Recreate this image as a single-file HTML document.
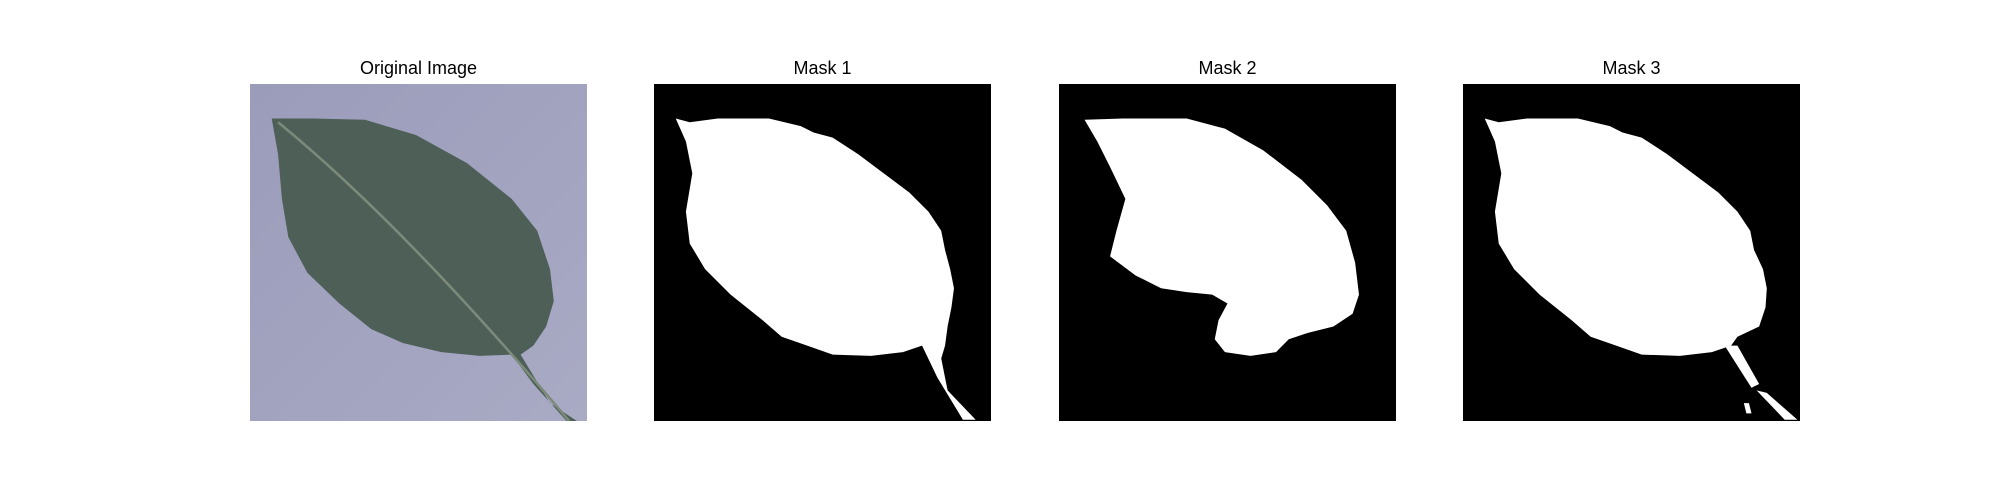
<!DOCTYPE html>
<html><head><meta charset="utf-8"><style>
body{margin:0;background:#fff;width:2000px;height:500px;overflow:hidden;font-family:"Liberation Sans","DejaVu Sans",sans-serif}
.t{position:absolute;top:58px;font-size:18px;text-anchor:middle;width:337px;text-align:center;color:#000}
svg.p{position:absolute;top:84px;width:337px;height:337px}
</style></head><body>
<div class="t" style="left:250px">Original Image</div>
<div class="t" style="left:654px">Mask 1</div>
<div class="t" style="left:1059px">Mask 2</div>
<div class="t" style="left:1463px">Mask 3</div>

<svg class="p" style="left:250px" viewBox="0 0 264 264">
<defs><linearGradient id="bg" x1="0" y1="0" x2="1" y2="1"><stop offset="0" stop-color="#9a9cba"/><stop offset="1" stop-color="#a9aac4"/></linearGradient></defs>
<rect width="264" height="264" fill="url(#bg)"/>
<path d="M17,27 L50,27 L90,28 L130,40 L170,62 L205,90 L225,115 L235,145 L238,170 L232,190 L222,205 L212,212 L235,250 L256,264 L248,264 L222,235 L205,212 L180,213 L150,210 L120,203 L95,192 L70,172 L45,148 L30,120 L25,90 L22,55 Z" fill="#4d5f57"/>
<path d="M22,30 Q120,110 250,264" stroke="#7b8a7a" stroke-width="2" fill="none"/>
</svg>

<svg class="p" style="left:654px" viewBox="0 0 264 264">
<rect width="264" height="264" fill="#000"/>
<path d="M17,27 L28,30 L50,27 L90,27 L115,33 L125,38 L140,42 L160,55 L180,70 L200,85 L215,100 L225,115 L228,130 L232,145 L235,160 L233,175 L230,190 L228,205 L225,215 L230,240 L252,263 L242,263 L222,230 L210,205 L195,210 L170,213 L140,212 L120,205 L100,198 L85,185 L60,165 L40,145 L28,125 L25,100 L30,70 L25,45 Z" fill="#fff"/>
</svg>

<svg class="p" style="left:1059px" viewBox="0 0 264 264">
<rect width="264" height="264" fill="#000"/>
<path d="M20,28 L50,27 L100,27 L130,35 L160,52 L190,75 L210,95 L225,115 L232,140 L235,165 L230,180 L215,190 L195,195 L180,200 L170,210 L150,213 L130,210 L122,200 L125,185 L132,172 L120,165 L100,163 L80,160 L60,150 L40,135 L45,115 L52,90 L40,65 L30,45 Z" fill="#fff"/>
</svg>

<svg class="p" style="left:1463px" viewBox="0 0 264 264">
<rect width="264" height="264" fill="#000"/>
<path d="M17,27 L28,30 L50,27 L90,27 L115,33 L125,38 L140,42 L160,55 L180,70 L200,85 L215,100 L225,115 L228,130 L235,145 L238,160 L237,175 L232,190 L215,198 L210,205 L195,210 L170,213 L140,212 L120,205 L100,198 L85,185 L60,165 L40,145 L28,125 L25,100 L30,70 L25,45 Z" fill="#fff"/>
<path d="M205,205 L215,205 L232,235 L226,238 Z M230,240 L238,242 L262,263 L252,263 Z M220,250 L224,250 L226,258 L222,258 Z" fill="#fff"/>
</svg>
</body></html>
